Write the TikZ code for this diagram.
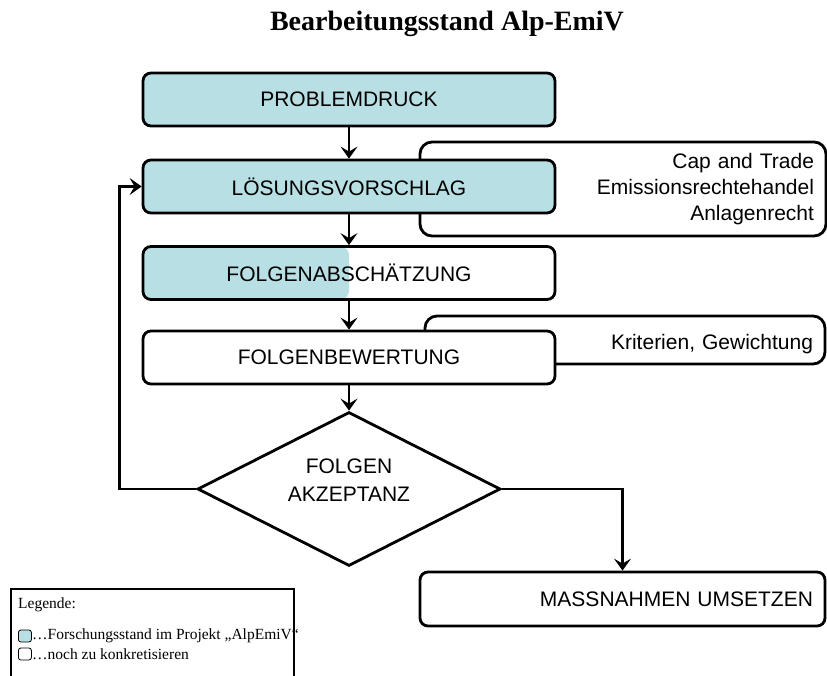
\documentclass[tikz,border=0pt]{standalone}
\usepackage{fontspec}
\setmainfont{Liberation Serif}
\newfontfamily\arialfont{Liberation Sans}
\usetikzlibrary{arrows.meta,shapes.geometric}
\definecolor{stand}{RGB}{184,223,227}
\begin{document}
\begin{tikzpicture}[x=1pt,y=-1pt,
  flowbox/.style={draw, line width=2.8pt, rounded corners=8pt, minimum width=412pt,
    minimum height=53pt, inner sep=0pt, font=\arialfont\fontsize{21}{26}\selectfont},
  sidebox/.style={draw, line width=2.8pt, rounded corners=12pt, fill=white, inner xsep=12pt,
    inner ysep=0pt, align=right, font=\arialfont\fontsize{21}{26}\selectfont},
  decision/.style={draw, diamond, line width=2.8pt, fill=white, inner sep=0pt,
    minimum width=303pt, minimum height=154pt},
  decisionlabel/.style={align=center, inner sep=0pt, font=\arialfont\fontsize{21}{28}\selectfont},
  arr/.style={line width=2.8pt, -{Stealth[length=12pt,width=17pt,inset=5pt]}},
  legtext/.style={anchor=west, inner sep=0pt, font=\fontsize{15.5}{18}\selectfont},
  legkey/.style={draw, line width=0.8pt, rounded corners=2.5pt, minimum width=13pt,
    minimum height=12pt, inner sep=0pt}
]
\clip (0,0) rectangle (827,675);

% title
\node[font=\bfseries\fontsize{28}{32}\selectfont] (title) at (447,24) {Bearbeitungsstand Alp-EmiV};

% side notes (behind the main boxes)
\node[sidebox, text width=382pt, minimum height=94pt] (cap) at (623,189)
  {Cap and Trade\\Emissionsrechtehandel\\Anlagenrecht};
\node[sidebox, text width=376pt, minimum height=48pt] (krit) at (625,340)
  {\raisebox{-4pt}[\height][\depth]{Kriterien, Gewichtung}};

% main flow
\node[flowbox, fill=stand] (prob) at (349,99.5) {PROBLEMDRUCK};
\node[flowbox, fill=stand] (loes) at (349,186.5) {LÖSUNGSVORSCHLAG};
\fill[stand, rounded corners=8pt] (143,247) rectangle (349,299);
\node[flowbox] (abs) at (349,273) {FOLGENABSCHÄTZUNG};
\node[flowbox, fill=white] (bew) at (349,357.5) {FOLGENBEWERTUNG};
\node[decision] (akz) at (349,489) {};
\node[decisionlabel] (akztext) at ([yshift=9pt]akz.center) {FOLGEN\\AKZEPTANZ};
\node[flowbox, minimum width=405pt, minimum height=54pt, text width=381pt, align=right,
  inner xsep=12pt] (mass) at (622.5,599) {MASSNAHMEN UMSETZEN};

% connectors
\draw[arr] (prob) -- (loes);
\draw[arr] (loes) -- (abs);
\draw[arr] (abs) -- (bew);
\draw[arr] (bew) -- (akz);
\draw[arr] (akz.west) -- ++(-77,0) |- (loes.west);
\draw[arr] (akz.east) -| (mass.north);

% legend
\draw[line width=1.2pt] (11,700) |- (294,589) -- (294,700);
\node[legtext] (legtitle) at (18,605) {Legende:};
\node[legkey, fill=stand, anchor=west] (keyA) at (18,636) {};
\node[legtext] (legA) at (32,636) {…Forschungsstand im Projekt „AlpEmiV“};
\node[legkey, anchor=west] (keyB) at (18,654) {};
\node[legtext] (legB) at (32,654) {…noch zu konkretisieren};
\end{tikzpicture}
\end{document}
